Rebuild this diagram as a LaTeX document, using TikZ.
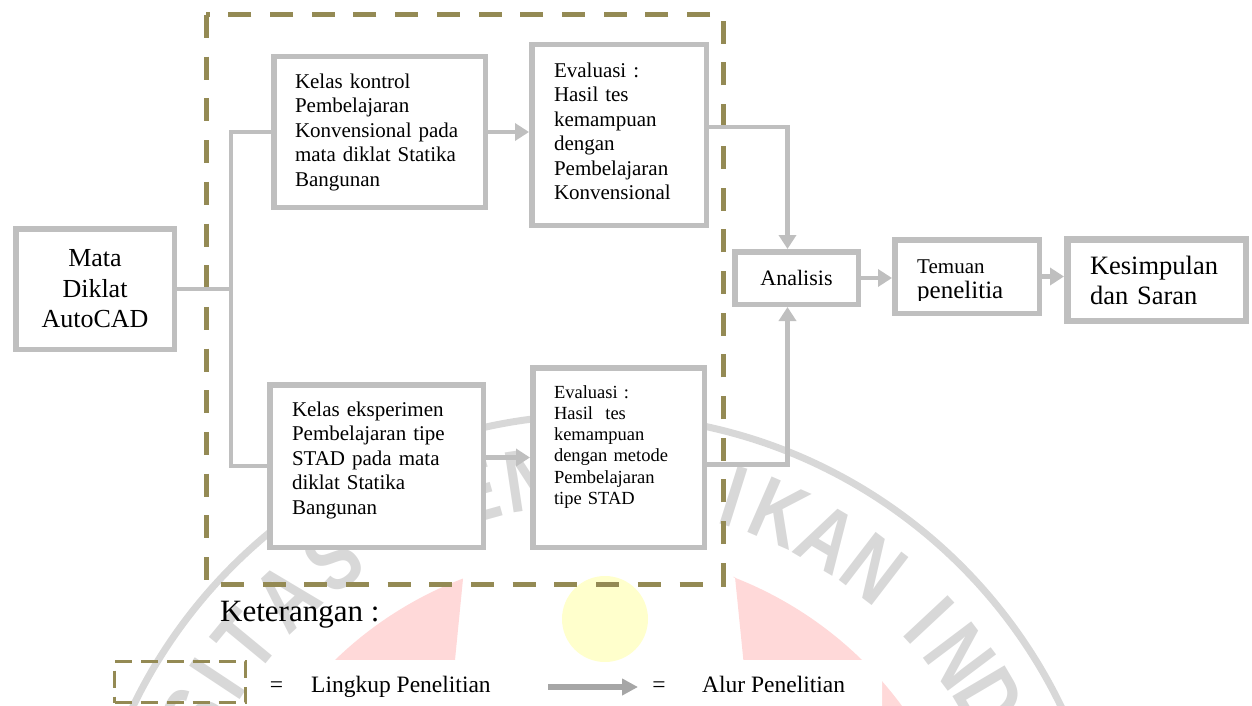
\documentclass[tikz,border=0pt]{standalone}
\usepackage{fontspec}
\setmainfont{Liberation Serif}
\newfontfamily\wmfont{Liberation Sans}
\usetikzlibrary{arrows.meta}
\definecolor{boxgrey}{RGB}{191,191,191}
\definecolor{arrowgrey}{RGB}{166,166,166}
\definecolor{scopeolive}{RGB}{148,138,84}
\definecolor{wmgrey}{RGB}{216,216,216}
\definecolor{wmpink}{RGB}{255,217,217}
\definecolor{wmyellow}{RGB}{255,255,204}
\begin{document}
\begin{tikzpicture}[x=1pt, y=-1pt,
    box/.style={draw=boxgrey, line width=5.5pt, fill=white, inner sep=0pt},
    boxtext/.style={align=left, font=\fontsize{21}{24.5}\selectfont},
    smalltext/.style={align=left, font=\fontsize{18.5}{21.3}\selectfont},
    legtext/.style={font=\fontsize{23.5}{27}\selectfont, inner sep=0pt},
    flow/.style={draw=boxgrey, line width=4.5pt},
    flowarrow/.style={flow, -{Triangle[length=14pt, width=17pt]}},
    legarrow/.style={draw=arrowgrey, line width=6pt, -{Triangle[length=16pt, width=16pt]}},
    scopeline/.style={draw=scopeolive, line width=5pt, dash pattern=on 23pt off 18.7pt},
    legendbox/.style={draw=scopeolive, line width=3pt, dash pattern=on 17pt off 9pt, inner sep=0pt},
    wmletter/.style={text=wmgrey, font=\wmfont\bfseries\fontsize{88}{88}\selectfont, inner sep=0pt}]
  \useasboundingbox (0,0) rectangle (1252,706);
  \clip (0,0) rectangle (1252,706);

  % watermark
  \fill[wmpink] (463,579) -- (455,660) -- (335,660) arc[start angle=134.1, end angle=110.9, radius=377pt] -- cycle;
  \fill[wmpink] (735,577) -- (748,706) -- (902,706) arc[start angle=36.4, end angle=68.9, radius=380pt] -- cycle;
  \fill[white] (0,660) rectangle (882,706)
               (882,660) rectangle (1252,667);
  \fill[wmyellow] (605,619) circle[radius=43pt];
  \draw[wmgrey, line width=7pt] (597,930) circle[radius=515pt];
  \foreach \ch/\ang [count=\i] in {E/165.5, R/158.5, S/152, I/146.5, T/140.5, A/133, S/125.5,
      E/105.5, N/98.5, D/79, I/72.5, K/66.4, A/59.5, N/52.5,
      I/43, N/37, D/30.5, O/23.5, N/16}
    \node[wmletter, rotate=\ang-90, xscale=0.8] (wm\i) at ({597+455*cos(\ang)},{930-455*sin(\ang)}) {\ch};

  \draw[scopeline] (206,15) rectangle (723,584);

  \node[box, align=center, font=\fontsize{26}{30.5}\selectfont, minimum width=158.5pt, minimum height=120.5pt]
    (mata) at (95,289) {Mata\\ Diklat\\ AutoCAD};
  \node[box, boxtext, text width=169pt, minimum width=211.5pt, minimum height=150.5pt]
    (kontrol) at (379.5,132) {Kelas kontrol\\ Pembelajaran\\ Konvensional pada\\ mata diklat Statika\\ Bangunan};
  \node[box, boxtext, text width=130pt, minimum width=174.5pt, minimum height=180.5pt]
    (evalk) at (619,135) {Evaluasi :\\ Hasil tes\\ kemampuan\\ dengan\\ Pembelajaran\\ Konvensional\\[-16.5pt]\mbox{}};
  \node[box, boxtext, text width=169pt, minimum width=213.5pt, minimum height=162.5pt]
    (eksperimen) at (376.5,466) {Kelas eksperimen\\ Pembelajaran tipe\\ STAD pada mata\\ diklat Statika\\ Bangunan\\[-8pt]\mbox{}};
  \node[box, smalltext, text width=129pt, minimum width=171.5pt, minimum height=179.5pt]
    (evals) at (618.5,457.5) {Evaluasi :\\ Hasil\ \ tes\\ kemampuan\\ dengan metode\\ Pembelajaran\\ tipe STAD\\[4pt]\mbox{}};
  \node[box, font=\fontsize{22}{26}\selectfont, minimum width=123.5pt, minimum height=52.5pt]
    (analisis) at (796.5,278) {Analisis};
  \node[box, minimum width=144.5pt, minimum height=73.5pt] (temuan) at (967,276.5) {};
  \begin{scope}
    \clip (900,240) rectangle (1036,300.5);
    \node[boxtext, inner sep=0pt, anchor=base west] (temuantop) at (917,273) {Temuan};
    \node[inner sep=0pt, anchor=base west, font=\fontsize{25}{29}\selectfont] (temuanbot) at (917,298.5) {penelitia};
  \end{scope}
  \node[box, line width=6.5pt, align=left, font=\fontsize{26.5}{30}\selectfont, text width=133pt,
    minimum width=178.5pt, minimum height=81.5pt] (kesimpulan) at (1156.5,280) {Kesimpulan\\ dan Saran};

  \coordinate (spine) at (231,0);
  \draw[flow] (kontrol.west) -| (spine |- eksperimen.west) -- (eksperimen.west);
  \draw[flow] (mata.east) -- (mata.east -| spine);
  \draw[flowarrow] (kontrol.east) -- (kontrol.east -| evalk.west);
  \draw[flowarrow] (eksperimen.east |- evals.west) -- (evals.west);
  \draw[flowarrow] ([yshift=8pt]evalk.east) -| ([xshift=-9pt]analisis.north);
  \draw[flowarrow] ([yshift=-7pt]evals.east) -| ([xshift=-9pt]analisis.south);
  \draw[flowarrow] (analisis.east) -- (analisis.east -| temuan.west);
  \draw[flowarrow] (temuan.east) -- (temuan.east -| kesimpulan.west);

  \node[anchor=base west, inner sep=0pt, font=\fontsize{31}{36}\selectfont] (keterangan) at (220,621) {Keterangan :};
  \node[legendbox, minimum width=131pt, minimum height=41pt] (legscope) at (180,682) {};
  \node[legtext, anchor=base] (eqlingkup) at (276.5,692) {=};
  \node[legtext, anchor=base west] (lingkup) at (311,692) {Lingkup Penelitian};
  \coordinate (alurtail) at (548,687);
  \coordinate (alurtip) at (638,687);
  \draw[legarrow] (alurtail) -- (alurtip);
  \node[legtext, anchor=base] (eqalur) at (659,692) {=};
  \node[legtext, anchor=base west] (alur) at (702,692) {Alur Penelitian};
\end{tikzpicture}
\end{document}
